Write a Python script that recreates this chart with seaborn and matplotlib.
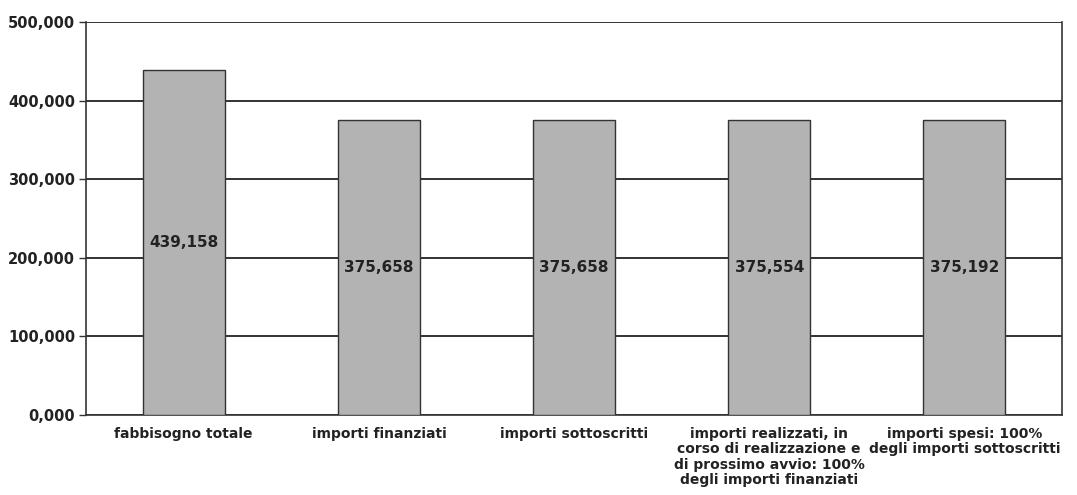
import numpy as np
import pandas as pd
import matplotlib.pyplot as plt
import seaborn as sns

categories = [
    "fabbisogno totale",
    "importi finanziati",
    "importi sottoscritti",
    "importi realizzati, in\ncorso di realizzazione e\ndi prossimo avvio: 100%\ndegli importi finanziati",
    "importi spesi: 100%\ndegli importi sottoscritti",
]
values = [439.158, 375.658, 375.658, 375.554, 375.192]
y_ticks = [0, 100, 200, 300, 400, 500]

def fmt(v):
    return f"{v:.3f}".replace(".", ",")

df = pd.DataFrame({"cat": categories, "val": values})

sns.set_style("white")
plt.rcParams["font.family"] = ["DejaVu Sans"]
fig, ax = plt.subplots(figsize=(10.77, 4.95), dpi=100)
fig.subplots_adjust(left=0.08, right=0.986, top=0.955, bottom=0.162)

sns.barplot(data=df, x="cat", y="val", color="#b3b3b3", width=0.42,
            edgecolor="#333333", linewidth=1.0, saturation=1, ax=ax, zorder=3)

ax.set_ylim(0, 500)
ax.set_xlim(-0.5, 4.5)
ax.set_yticks(y_ticks)
ax.set_yticklabels([fmt(t) for t in y_ticks], fontsize=10.5, fontweight="bold", color="#222222")
ax.yaxis.grid(True, color="#222222", linewidth=1.3, zorder=0)
ax.set_axisbelow(True)

ax.set_xticks(range(len(categories)))
ax.set_xticklabels(categories, fontsize=10, fontweight="bold", color="#222222",
                   linespacing=1.1, va="top")
ax.tick_params(axis="x", length=0, pad=9)
ax.set_xticks(np.arange(-0.5, 5, 1), minor=True)
ax.tick_params(axis="x", which="minor", length=5, color="#333333", width=1)
ax.tick_params(axis="y", length=5, color="#333333", width=1, left=True, pad=3)
ax.set_xlabel("")
ax.set_ylabel("")

for s in ["left", "bottom", "right"]:
    ax.spines[s].set_color("#333333")
    ax.spines[s].set_linewidth(1.2)
ax.spines["top"].set_visible(False)

for i, v in enumerate(values):
    ax.text(i, v / 2, fmt(v), ha="center", va="center", fontsize=11,
            fontweight="bold", color="#222222", zorder=4)

fig.savefig("out.png", dpi=100)
